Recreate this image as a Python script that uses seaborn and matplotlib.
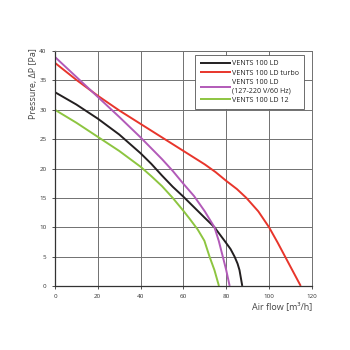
import matplotlib
matplotlib.use("Agg")
import matplotlib.pyplot as plt
import seaborn as sns
import pandas as pd

sns.set_theme(style="white")
plt.rcParams['font.family'] = ['Open Sans', 'DejaVu Sans']

series_names = ["VENTS 100 LD", "VENTS 100 LD turbo",
                "VENTS 100 LD\n(127-220 V/60 Hz)", "VENTS 100 LD 12"]
colors = ["#231f20", "#e8352b", "#b25ab8", "#8dc540"]

x_ld = [0, 10, 20, 30, 40, 45, 50, 55, 60, 65, 70, 74.5, 79.2, 82, 83.9, 85.3, 86.2, 87.5]
y_ld = [33, 30.9, 28.5, 25.8, 22.6, 20.8, 18.8, 16.9, 15.2, 13.4, 11.6, 10.0, 7.7, 6.3, 5.0, 3.8, 2.7, 0]

x_turbo = [0, 10, 20, 30, 40, 50, 60, 70, 75, 80, 85, 89.4, 95, 100, 104, 107.5, 111, 114.8]
y_turbo = [38, 35.1, 32.4, 29.9, 27.6, 25.3, 23.0, 20.7, 19.4, 17.9, 16.5, 15.0, 12.7, 10.0, 7.4, 5.0, 2.6, 0]

x_60hz = [0, 10, 20, 30, 40, 50, 55, 60, 65, 70, 74.5, 76.5, 78.4, 80, 81.6]
y_60hz = [39, 35.6, 32.2, 28.8, 25.3, 21.6, 19.6, 17.4, 15.3, 12.7, 10.0, 7.7, 5.0, 2.7, 0]

x_12 = [0, 10, 20, 30, 40, 45, 50, 55, 60, 63, 66.7, 69.8, 72.2, 74.5, 76.6]
y_12 = [30, 27.8, 25.4, 23.0, 20.3, 18.7, 17.0, 15.0, 12.8, 11.4, 9.6, 7.7, 5.0, 2.7, 0]

x_ticks = [0, 20, 40, 60, 80, 100, 120]
y_ticks = [0, 5, 10, 15, 20, 25, 30, 35, 40]

frames = []
for name, xs, ys in zip(series_names, [x_ld, x_turbo, x_60hz, x_12],
                        [y_ld, y_turbo, y_60hz, y_12]):
    frames.append(pd.DataFrame({"flow": xs, "pressure": ys, "model": name}))
df = pd.concat(frames, ignore_index=True)

fig = plt.figure(figsize=(3.5, 3.5), dpi=100)
ax = fig.add_axes([0.157, 0.183, 0.734, 0.671])

sns.lineplot(data=df, x="flow", y="pressure", hue="model", hue_order=series_names,
             palette=colors, sort=False, estimator=None, linewidth=1.4, ax=ax)
for ln in ax.get_lines():
    ln.set_solid_joinstyle("round")
    ln.set_solid_capstyle("butt")

ax.set_xlim(0, 120)
ax.set_ylim(0, 40)
ax.set_xticks(x_ticks)
ax.set_yticks(y_ticks)
ax.grid(True, color="#707070", linewidth=0.7)
ax.set_axisbelow(True)
for s in ["top", "right"]:
    ax.spines[s].set_color("#707070")
    ax.spines[s].set_linewidth(0.7)
for s in ["left", "bottom"]:
    ax.spines[s].set_color("#333333")
    ax.spines[s].set_linewidth(0.9)
ax.tick_params(axis="both", labelsize=4.5, colors="#333333", length=2, width=0.6, pad=4, direction="out")
ax.tick_params(axis="both", left=True, bottom=True)

ax.set_xlabel("Air flow [m³/h]", fontsize=6.5, color="#444444")
ax.xaxis.set_label_coords(1.0, -0.07)
ax.xaxis.label.set_horizontalalignment("right")
ax.set_ylabel("Pressure, ΔP [Pa]", fontsize=6.5, color="#444444")
ax.yaxis.set_label_coords(-0.085, 0.86)
ax.yaxis.label.set_verticalalignment("center")

leg = ax.legend(loc="upper right", bbox_to_anchor=(0.985, 0.997), fontsize=5.1, frameon=True,
                fancybox=False, edgecolor="#555555", framealpha=1, handlelength=4.4,
                handletextpad=0.25, borderpad=0.7, labelspacing=0.35)
leg.get_frame().set_linewidth(0.6)
for t in leg.get_texts():
    t.set_color("#222222")

fig.savefig("out.png", dpi=100, facecolor="white")
